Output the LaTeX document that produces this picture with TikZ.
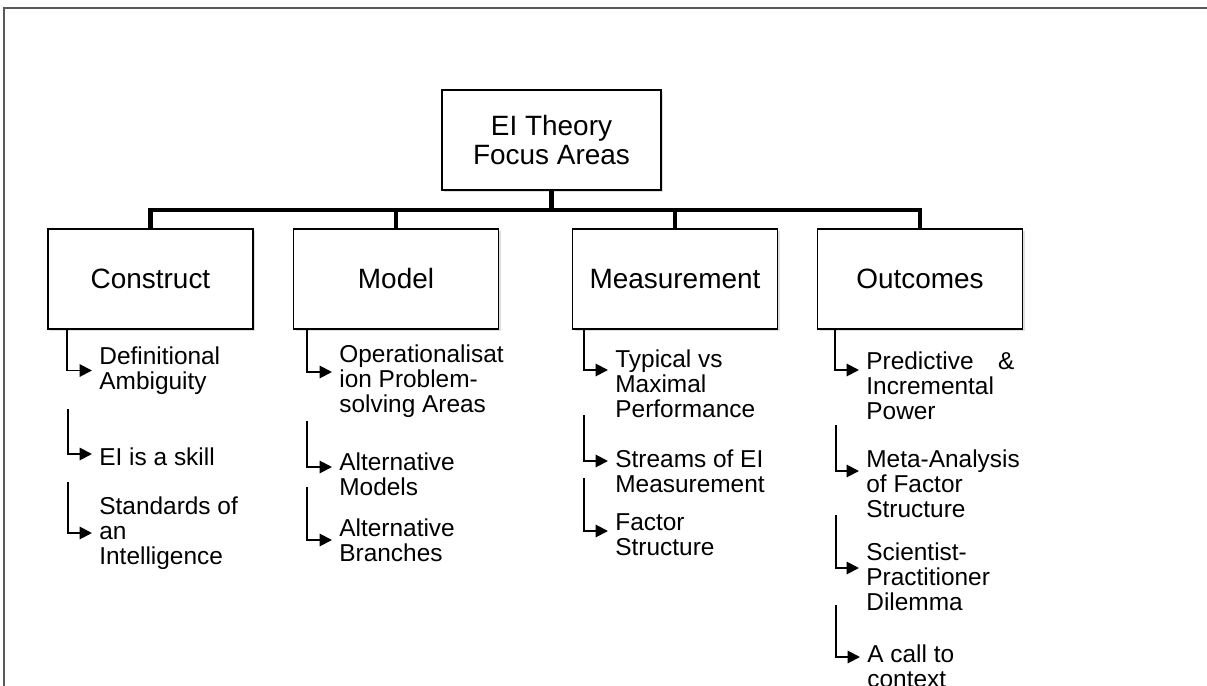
\documentclass[tikz,border=0pt]{standalone}
\usepackage{fontspec}
\setmainfont{Liberation Sans}
\usepackage{tikz}
\usetikzlibrary{positioning,calc,arrows.meta,shadows}

\tikzset{
    topbox/.style={draw, line width=0.7pt, fill=white, minimum width=4.38cm, minimum height=2cm,
        align=center, font=\fontsize{15.9}{16}\selectfont,
        drop shadow={shadow xshift=1.2pt, shadow yshift=-1.2pt, opacity=0.25}},
    areabox/.style={topbox, minimum width=4.1cm},
    item/.style={anchor=west, align=left, inner xsep=4pt, inner ysep=0pt,
        font=\fontsize{13.9}{14.2}\selectfont},
    bus/.style={line width=2.3pt},
    elbow/.style={line width=1.1pt, -{Triangle[length=7pt, width=7pt]}}
}

\begin{document}
\begin{tikzpicture}[x=0.02cm, y=-0.02cm]
    \useasboundingbox (0,0) rectangle (1207,686);
    % frame
    \draw[black!65, line width=1.3pt] (4,690) -- (4,8) -- (1210,8);

    % boxes
    \node [topbox] (focus) at (551.5,140) {EI Theory\\Focus Areas};
    \node [areabox] (construct) at (150.5,279) {Construct};
    \node [areabox] (model) at (396,279) {Model};
    \node [areabox] (measure) at (675,279) {Measurement};
    \node [areabox] (outcomes) at (920,279) {Outcomes};

    % tree
    \coordinate (busy) at (0,210);
    \draw [bus] (focus.south) -- (focus.south |- busy);
    \draw [bus] (construct.north) -- (construct.north |- busy) -| (outcomes.north);
    \draw [bus] (model.north) -- (model.north |- busy);
    \draw [bus] (measure.north) -- (measure.north |- busy);

    % construct items
    \node [item] (con1) at (92,370.5) {Definitional\\Ambiguity};
    \node [item] (con2) at (92,457) {EI is a skill};
    \node [item] (con3) at (92,533) {Standards of\\an\\Intelligence};
    \coordinate (con2top) at (68,409);
    \coordinate (con3top) at (68,482);
    \draw [elbow] ($(construct.south west)+(20,0)$) |- (con1.west);
    \draw [elbow] (con2top) |- ($(con2.west)+(0,-3)$);
    \draw [elbow] (con3top) |- (con3.west);

    % model items
    \node [item] (mod1) at (332,381) {Operationalisat\\ion Problem-\\solving Areas};
    \node [item] (mod2) at (332,474) {Alternative\\Models};
    \node [item] (mod3) at (332,540) {Alternative\\Branches};
    \coordinate (mod2top) at (307,421);
    \coordinate (mod3top) at (307,487);
    \draw [elbow] ($(model.south west)+(14,0)$) |- ($(mod1.west)+(0,-9)$);
    \draw [elbow] (mod2top) |- ($(mod2.west)+(0,-7)$);
    \draw [elbow] (mod3top) |- (mod3.west);

    % measurement items
    \node [item] (mea1) at (608,384) {Typical vs\\Maximal\\Performance};
    \node [item] (mea2) at (608,471) {Streams of EI\\Measurement};
    \node [item] (mea3) at (608,535) {Factor\\Structure};
    \coordinate (mea2top) at (584,415);
    \coordinate (mea3top) at (584,478);
    \draw [elbow] ($(measure.south west)+(12,0)$) |- ($(mea1.west)+(0,-14)$);
    \draw [elbow] (mea2top) |- ($(mea2.west)+(0,-10)$);
    \draw [elbow] (mea3top) |- ($(mea3.west)+(0,-4)$);

    % outcomes items
    \node [item] (out1) at (859,386) {Predictive\hspace{1em}\&\\Incremental\\Power};
    \node [item] (out2) at (859,484) {Meta-Analysis\\of Factor\\Structure};
    \node [item] (out3) at (859,577) {Scientist-\\Practitioner\\Dilemma};
    \node [item] (out4) at (860,666) {A call to\\context};
    \coordinate (out2top) at (836,425);
    \coordinate (out3top) at (836,515);
    \coordinate (out4top) at (836,605);
    \draw [elbow] ($(outcomes.south west)+(18,0)$) |- ($(out1.west)+(0,-16)$);
    \draw [elbow] (out2top) |- ($(out2.west)+(0,-13)$);
    \draw [elbow] (out3top) |- ($(out3.west)+(0,-9)$);
    \draw [elbow] (out4top) |- ($(out4.west)+(0,-9)$);
\end{tikzpicture}
\end{document}
